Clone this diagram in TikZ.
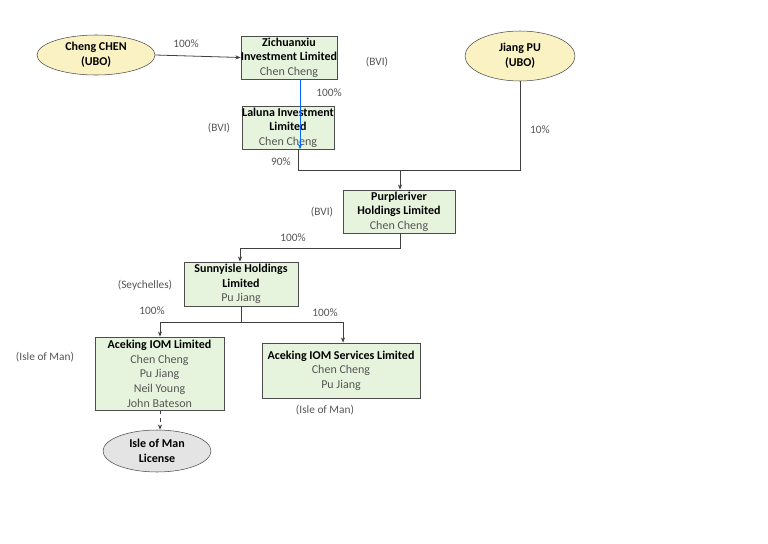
\documentclass[tikz,border=0pt]{standalone}
\usepackage{fontspec}
\setmainfont{Carlito}
\usetikzlibrary{shapes.geometric,arrows.meta}
\definecolor{boxg}{HTML}{E6F4DE}
\definecolor{ubo}{HTML}{FAF2C2}
\definecolor{lic}{HTML}{E4E4E4}
\definecolor{txt}{HTML}{555555}
\begin{document}
\begin{tikzpicture}[x=0.75pt,y=-0.75pt,
  box/.style={draw=black!70,fill=boxg,align=center,inner sep=0pt,font=\fontsize{9}{11}\selectfont},
  ell/.style={ellipse,draw=black!70,align=center,inner sep=0pt,font=\fontsize{9}{11}\selectfont\bfseries},
  lab/.style={font=\fontsize{8.5}{10}\selectfont,text=txt},
  con/.style={draw=black!75,line width=0.6pt},
  arr/.style={con,-{Stealth[length=4pt,width=3pt]}},
  nm/.style={text=txt}]
\path[use as bounding box] (0,0) rectangle (768,543);
\node[ell,fill=ubo,minimum width=118*0.75pt,minimum height=40*0.75pt] (cc) at (96,55) {Cheng CHEN\\(UBO)};
\node[ell,fill=ubo,minimum width=110*0.75pt,minimum height=50*0.75pt] (jp) at (520,56) {Jiang PU\\(UBO)};
\node[box,minimum width=92*0.75pt,minimum height=43*0.75pt] (zi) at (289,57.5) {\textbf{Zichuanxiu}\\\textbf{Investment Limited}\\{\color{txt}Chen Cheng}};
\node[box,minimum width=92*0.75pt,minimum height=43*0.75pt] (la) at (288,127.5) {\textbf{Laluna Investment}\\\textbf{Limited}\\{\color{txt}Chen Cheng}};
\node[box,minimum width=112*0.75pt,minimum height=43*0.75pt] (pr) at (399,211.5) {\textbf{Purpleriver}\\\textbf{Holdings Limited}\\{\color{txt}Chen Cheng}};
\node[box,minimum width=114*0.75pt,minimum height=44*0.75pt] (su) at (241,284) {\textbf{Sunnyisle Holdings}\\\textbf{Limited}\\{\color{txt}Pu Jiang}};
\node[box,minimum width=129*0.75pt,minimum height=73*0.75pt] (ai) at (159.5,373.5) {\textbf{Aceking IOM Limited}\\{\color{txt}Chen Cheng}\\{\color{txt}Pu Jiang}\\{\color{txt}Neil Young}\\{\color{txt}John Bateson}};
\node[box,minimum width=158*0.75pt,minimum height=55*0.75pt] (as) at (341,370.5) {\textbf{Aceking IOM Services Limited}\\{\color{txt}Chen Cheng}\\{\color{txt}Pu Jiang}};
\node[ell,fill=lic,minimum width=108*0.75pt,minimum height=42*0.75pt] (im) at (157,451) {Isle of Man\\License};
\coordinate (j1) at (298,170); \coordinate (j2) at (520,170); \coordinate (j3) at (400,170);
\coordinate (k1) at (400,248); \coordinate (k2) at (240,248);
\coordinate (m1) at (241,322); \coordinate (m2) at (160,322); \coordinate (m3) at (343,322);
\draw[arr] (cc.east) -- (zi.west);
\draw[arr,draw=blue!60!cyan] (zi.south -| 300,0) -- (la.south -| 300,0 |- la.north);
\draw[con] (la.south -| j1) -- (j1) -- (j2) -- (jp.south);
\draw[arr] (j3) -- (pr.north -| j3);
\draw[con] (pr.south -| k1) -- (k1) -- (k2);
\draw[arr] (k2) -- (su.north -| k2);
\draw[con] (su.south -| m1) -- (m1);
\draw[arr] (m2) -- (m3 -| m2) -- (ai.north -| m2);
\draw[con] (m1) -- (m2);
\draw[arr] (m1) -- (m3) -- (as.north -| m3);
\draw[arr,dashed] (ai.south -| 160,0) -- (im.north -| 160,0);
\node[lab] (l1) at (186,44) {100\%};
\node[lab] (l2) at (377,62) {(BVI)};
\node[lab] (l3) at (329,93) {100\%};
\node[lab] (l4) at (219,128) {(BVI)};
\node[lab] (l5) at (540,130) {10\%};
\node[lab] (l6) at (281,162) {90\%};
\node[lab] (l7) at (322,212) {(BVI)};
\node[lab] (l8) at (293,238) {100\%};
\node[lab] (l9) at (145,285) {(Seychelles)};
\node[lab] (l10) at (152,311) {100\%};
\node[lab] (l11) at (325,313) {100\%};
\node[lab] (l12) at (45,357) {(Isle of Man)};
\node[lab] (l13) at (325,410) {(Isle of Man)};
\end{tikzpicture}
\end{document}
